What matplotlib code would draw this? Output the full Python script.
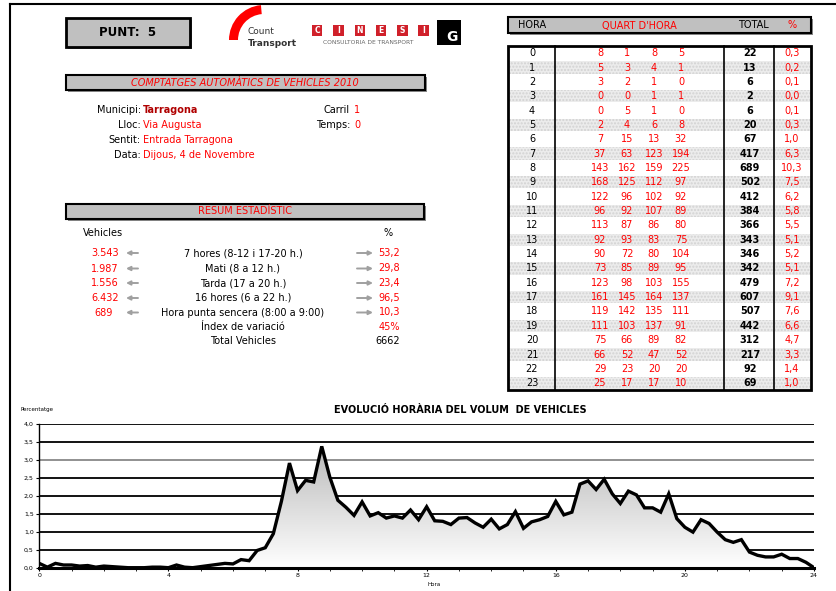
import numpy as np
import matplotlib
matplotlib.use("Agg")
from matplotlib import pyplot as plt
from matplotlib.patches import Rectangle, Wedge
from matplotlib.colors import LinearSegmentedColormap

# dades del comptatge (punt 5)
hores = list(range(24))
quarts = [[8, 1, 8, 5], [5, 3, 4, 1], [3, 2, 1, 0], [0, 0, 1, 1], [0, 5, 1, 0],
          [2, 4, 6, 8], [7, 15, 13, 32], [37, 63, 123, 194], [143, 162, 159, 225],
          [168, 125, 112, 97], [122, 96, 102, 92], [96, 92, 107, 89], [113, 87, 86, 80],
          [92, 93, 83, 75], [90, 72, 80, 104], [73, 85, 89, 95], [123, 98, 103, 155],
          [161, 145, 164, 137], [119, 142, 135, 111], [111, 103, 137, 91],
          [75, 66, 89, 82], [66, 52, 47, 52], [29, 23, 20, 20], [25, 17, 17, 10]]
totals = [22, 13, 6, 2, 6, 20, 67, 417, 689, 502, 412, 384, 366, 343, 346, 342,
          479, 607, 507, 442, 312, 217, 92, 69]
pcts = ['0,3', '0,2', '0,1', '0,0', '0,1', '0,3', '1,0', '6,3', '10,3', '7,5', '6,2', '5,8',
        '5,5', '5,1', '5,2', '5,1', '7,2', '9,1', '7,6', '6,6', '4,7', '3,3', '1,4', '1,0']
total_vehicles = 6662
end_value = 0.0  # la corba tanca a 0 a les 24 h

info_labels = ['Municipi:', 'Lloc:', 'Sentit:', 'Data:']
info_values = ['Tarragona', 'Via Augusta', 'Entrada Tarragona', 'Dijous, 4 de Novembre']
carril, temps = '1', '0'

res_vehicles = ['3.543', '1.987', '1.556', '6.432', '689']
res_labels = ['7 hores (8-12 i 17-20 h.)', 'Mati (8 a 12 h.)', 'Tarda (17 a 20 h.)',
              '16 hores (6 a 22 h.)', 'Hora punta sencera (8:00 a 9:00)',
              'Índex de variació', 'Total Vehicles']
res_pct = ['53,2', '29,8', '23,4', '96,5', '10,3', '45%', '6662']

RED = '#ff0000'
GRAY = '#c0c0c0'

fig = plt.figure(figsize=(8.37, 5.91), dpi=100)
page = fig.add_axes([0, 0, 1, 1])
page.set_xlim(0, 837)
page.set_ylim(591, 0)
page.axis('off')

# marc de pàgina
page.plot([10, 837], [4, 4], color='black', lw=1.5)
page.plot([10, 10], [4, 591], color='black', lw=1.5)


def bar(x0, y0, x1, y1, lw=1.5):
    page.add_patch(Rectangle((x0 + 2, y0 + 2), x1 - x0, y1 - y0, fc='#888888', ec='none'))
    page.add_patch(Rectangle((x0, y0), x1 - x0, y1 - y0, fc=GRAY, ec='black', lw=lw))


# --- capçalera ---
bar(66, 18, 190, 47, lw=2)
page.text(128, 32.5, 'PUNT:  5', ha='center', va='center', fontsize=8.5, weight='bold')

page.add_patch(Wedge((264, 40), 35, 180, 265, width=9, fc=RED, ec='none'))
page.text(248, 32, 'Count', fontsize=6.5, va='center', color='#333333')
page.text(248, 43, 'Transport', fontsize=6.5, va='center', weight='bold', color='#333333')

for i, lletra in enumerate('CINESI'):
    x0 = 312 + 21.3 * i
    page.add_patch(Rectangle((x0, 25), 10.5, 11, fc='#d0202a', ec='none'))
    page.text(x0 + 5.25, 30.8, lletra, ha='center', va='center', fontsize=5.5,
              weight='bold', color='white')
page.text(368.5, 42, 'CONSULTORIA DE TRANSPORT', ha='center', va='center',
          fontsize=4.3, color='#666666')
page.add_patch(Rectangle((437, 20), 24, 25, fc='black', ec='none'))
page.text(452, 37, 'G', ha='center', va='center', fontsize=10, weight='bold', color='white')

# --- títol comptatges ---
bar(66, 75, 425, 90)
page.text(245, 82.5, 'COMPTATGES AUTOMÀTICS DE VEHICLES 2010', ha='center', va='center',
          fontsize=7, color=RED, style='italic')

info_y = [110, 125.5, 140, 154.5]
for k, (lab, val, y) in enumerate(zip(info_labels, info_values, info_y)):
    page.text(141, y, lab, ha='right', va='center', fontsize=7)
    page.text(143, y, val, ha='left', va='center', fontsize=7,
              color='#b00000' if k == 0 else RED, weight='bold' if k == 0 else 'normal')
page.text(350, info_y[0], 'Carril', ha='right', va='center', fontsize=7)
page.text(354, info_y[0], carril, ha='left', va='center', fontsize=7, color=RED)
page.text(350, info_y[1], 'Temps:', ha='right', va='center', fontsize=7)
page.text(354, info_y[1], temps, ha='left', va='center', fontsize=7, color=RED)

# --- resum estadístic ---
bar(66, 204, 424, 219)
page.text(245, 211.5, 'RESUM ESTADÍSTIC', ha='center', va='center', fontsize=7, color=RED)
page.text(83, 233, 'Vehicles', ha='left', va='center', fontsize=7)
page.text(388, 233, '%', ha='center', va='center', fontsize=7)

res_y = [253, 268.5, 283, 298, 312.5, 327, 341]
for i, y in enumerate(res_y):
    page.text(243, y, res_labels[i], ha='center', va='center', fontsize=7)
    col = 'black' if i == 6 else RED
    page.text(400, y, res_pct[i], ha='right', va='center', fontsize=7, color=col)
    if i < len(res_vehicles):
        xr = 113 if i == 4 else 119
        page.text(xr, y, res_vehicles[i], ha='right', va='center', fontsize=7, color=RED)
        page.annotate('', xy=(126, y), xytext=(138, y),
                      arrowprops=dict(arrowstyle='-|>', color='#a0a0a0', lw=1.4,
                                      mutation_scale=6, shrinkA=0, shrinkB=0))
        page.annotate('', xy=(373, y), xytext=(357, y),
                      arrowprops=dict(arrowstyle='-|>', color='#a0a0a0', lw=1.4,
                                      mutation_scale=6, shrinkA=0, shrinkB=0))

# --- taula horària ---
bar(508, 17, 811, 33)
page.text(532, 25.5, 'HORA', ha='center', va='center', fontsize=7)
page.text(639, 25.5, "QUART D'HORA", ha='center', va='center', fontsize=7, color=RED)
page.text(753, 25.5, 'TOTAL', ha='center', va='center', fontsize=7)
page.text(792, 25.5, '%', ha='center', va='center', fontsize=7, color=RED)

t_top, row_h = 46, 14.35
t_bot = t_top + row_h * len(hores)
q_x = [600, 627, 654, 681]
for i, h in enumerate(hores):
    y0 = t_top + i * row_h
    yc = y0 + row_h / 2
    if i % 2 == 1:
        page.add_patch(Rectangle((508, y0 + 1), 303, row_h - 2, fc='#ececec',
                                 ec='#d2d2d2', hatch='.....', lw=0))
    page.text(532, yc, str(h), ha='center', va='center', fontsize=7)
    for j, q in enumerate(quarts[i]):
        page.text(q_x[j], yc, str(q), ha='center', va='center', fontsize=7, color=RED)
    page.text(750, yc, str(totals[i]), ha='center', va='center', fontsize=7, weight='bold')
    page.text(792, yc, pcts[i], ha='center', va='center', fontsize=7, color=RED)

page.add_patch(Rectangle((508, t_top), 303, t_bot - t_top, fc='none', ec='black', lw=2))
for xv in [555, 724, 774]:
    page.plot([xv, xv], [t_top, t_bot], color='black', lw=1.2)

# --- gràfic evolució horària ---
ax = fig.add_axes([39.3 / 837, (591 - 567.7) / 591, (814 - 39.3) / 837, (567.7 - 424) / 591])
q_vals = np.array(quarts, dtype=float).flatten()
x = np.append(np.arange(len(q_vals)) / 4.0, 24)
y = np.append(q_vals / total_vehicles * 100, end_value)

for g in np.arange(0.5, 4.01, 0.5):
    ax.axhline(g, color='#888888' if g == 3.0 else 'black', lw=1.3, zorder=0)

poly = ax.fill_between(x, y, 0, facecolor='none', edgecolor='none')
cmap = LinearSegmentedColormap.from_list('grad', ['white', '#b8b8b8'])
grad = np.linspace(0, 1, 256).reshape(-1, 1)
img = ax.imshow(grad, extent=[0, 24, 0, 3.5], origin='lower', aspect='auto', cmap=cmap,
                zorder=1)
img.set_clip_path(poly.get_paths()[0], transform=ax.transData)
ax.plot(x, y, color='black', lw=2.4, zorder=3, solid_joinstyle='miter')

ax.set_xlim(0, 24)
ax.set_ylim(0, 4)
ax.set_xticks(range(0, 25, 4))
ax.set_xticks(range(25), minor=True)
ax.set_yticks(np.arange(0, 4.01, 0.5))
ax.set_yticklabels([f'{v:.1f}'.replace('.', ',') for v in np.arange(0, 4.01, 0.5)])
ax.tick_params(labelsize=4.5, length=2, width=0.8, pad=2)
ax.tick_params(which='minor', length=2, width=0.6)
for s in ['top', 'right']:
    ax.spines[s].set_visible(False)
ax.spines['left'].set_linewidth(1)
ax.spines['bottom'].set_linewidth(2.2)
ax.spines['bottom'].set_zorder(4)
ax.patch.set_alpha(0)

page.text(460, 410, 'EVOLUCIÓ HORÀRIA DEL VOLUM  DE VEHICLES', ha='center', va='center',
          fontsize=7, weight='bold')
page.text(21, 410, 'Percentatge', ha='left', va='center', fontsize=4)
page.text(428, 585, 'Hora', ha='left', va='center', fontsize=4)

fig.savefig('out.png', dpi=100)
